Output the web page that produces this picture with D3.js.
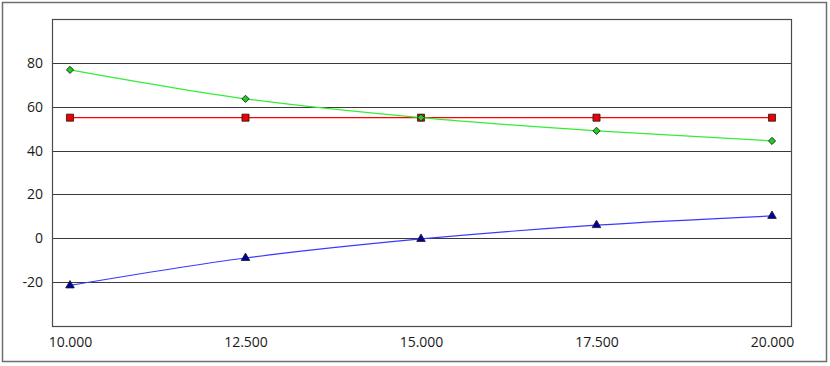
<!DOCTYPE html>
<html>
<head>
<meta charset="utf-8">
<script src="https://cdn.jsdelivr.net/npm/d3@7"></script>
<style>
  body { margin: 0; background: #fff; }
  svg text { font-family: "Open Sans", "DejaVu Sans", sans-serif; font-size: 14px; fill: #1a1a1a; }
</style>
</head>
<body>
<div id="chart"></div>
<script>
// chart values
const xValues = [10000, 12500, 15000, 17500, 20000];
const greenSeries = [76.8, 63.6, 55, 49, 44.4];
const redSeries = [55, 55, 55, 55, 55];
const blueSeries = [-21.5, -9, -0.3, 6, 10.2];
const yTicks = [-20, 0, 20, 40, 60, 80];

const width = 830, height = 366;
const plot = { left: 52, top: 19, right: 791, bottom: 326 };

const svg = d3.select("#chart").append("svg")
    .attr("width", width)
    .attr("height", height);

// outer border
svg.append("rect")
    .attr("x", 2.5).attr("y", 2.5)
    .attr("width", 824).attr("height", 359)
    .attr("fill", "#fff")
    .attr("stroke", "#6e6e6e")
    .attr("stroke-width", 1.5);

const x = d3.scaleLinear()
    .domain([10000, 20000])
    .range([70, 772]);

const y = d3.scaleLinear()
    .domain([-40, 100])
    .range([plot.bottom, plot.top]);

// gridlines
svg.append("g")
    .selectAll("line")
    .data(yTicks)
    .join("line")
    .attr("x1", plot.left)
    .attr("x2", plot.right)
    .attr("y1", d => Math.round(y(d)) + 0.5)
    .attr("y2", d => Math.round(y(d)) + 0.5)
    .attr("stroke", "#3a3a3a")
    .attr("stroke-width", 1);

// plot frame
svg.append("rect")
    .attr("x", plot.left + 0.5).attr("y", plot.top + 0.5)
    .attr("width", plot.right - plot.left).attr("height", plot.bottom - plot.top)
    .attr("fill", "none")
    .attr("stroke", "#4a4a4a")
    .attr("stroke-width", 1.2);

// y axis labels (plain hyphen for negatives)
const yAxis = d3.axisLeft(y).tickValues(yTicks).tickSize(0).tickPadding(9)
    .tickFormat(d => String(d));
svg.append("g")
    .attr("transform", `translate(${plot.left},0)`)
    .call(yAxis)
    .call(g => g.select(".domain").remove())
    .call(g => g.selectAll("text").style("font-size", "14px").attr("fill", "#1a1a1a"));

// x axis labels
const xAxis = d3.axisBottom(x).tickValues(xValues).tickSize(0).tickPadding(11)
    .tickFormat(d => d3.format(".3f")(d / 1000));
svg.append("g")
    .attr("transform", `translate(0,${plot.bottom})`)
    .call(xAxis)
    .call(g => g.select(".domain").remove())
    .call(g => g.selectAll("text").style("font-size", "14px").attr("fill", "#1a1a1a"));

function drawSeries(values, color, symbol, fill, size, rotate) {
    const pts = xValues.map((v, i) => [x(v), y(values[i])]);
    svg.append("path")
        .datum(pts)
        .attr("fill", "none")
        .attr("stroke", color)
        .attr("stroke-width", 1.2)
        .attr("d", d3.line().curve(d3.curveMonotoneX));
    svg.append("g")
        .selectAll("path")
        .data(pts)
        .join("path")
        .attr("transform", d => `translate(${d[0]},${d[1]}) rotate(${rotate})`)
        .attr("d", d3.symbol().type(symbol).size(size))
        .attr("fill", fill)
        .attr("stroke", "#1a1a1a")
        .attr("stroke-width", 0.8);
}

drawSeries(redSeries, "#ff0000", d3.symbolSquare, "#ee0000", 50, 0);
drawSeries(greenSeries, "#33ee33", d3.symbolSquare, "#22cc22", 26, 45);
drawSeries(blueSeries, "#3a3aff", d3.symbolTriangle, "#0000a0", 32, 0);
</script>
</body>
</html>
